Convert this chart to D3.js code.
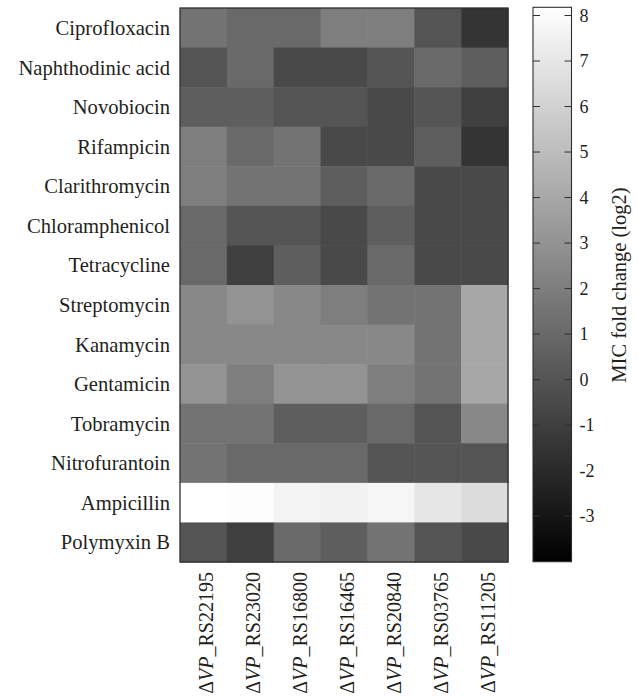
<!DOCTYPE html>
<html>
<head>
<meta charset="utf-8">
<script src="https://cdn.jsdelivr.net/npm/d3@7"></script>
<style>
  html, body { margin: 0; padding: 0; background: #fff; }
  svg { display: block; }
  text { font-family: "Liberation Serif", "Times New Roman", serif; fill: #231f20; }
</style>
</head>
<body>
<svg id="chart" width="638" height="697"></svg>
<script>
// Antibiotics (rows) and deletion strains (columns)
const drugs = [
  "Ciprofloxacin", "Naphthodinic acid", "Novobiocin", "Rifampicin",
  "Clarithromycin", "Chloramphenicol", "Tetracycline", "Streptomycin",
  "Kanamycin", "Gentamicin", "Tobramycin", "Nitrofurantoin",
  "Ampicillin", "Polymyxin B"
];
const strains = ["RS22195", "RS23020", "RS16800", "RS16465", "RS20840", "RS03765", "RS11205"];

// MIC fold change (log2), one array per antibiotic, in strain order
const ciprofloxacin   = [1.5, 1, 1, 2, 2, 0, -1.5];
const naphthodinic    = [0, 1, -0.5, -0.5, 0, 1, 0.5];
const novobiocin      = [0.5, 0.5, 0, 0, -0.5, 0, -1];
const rifampicin      = [2, 1, 1.5, -0.5, -0.5, 0.5, -1.5];
const clarithromycin  = [2, 1.5, 1.5, 0.5, 1, -0.5, -0.5];
const chloramphenicol = [1, 0, 0, -0.5, 0.5, -0.5, -0.5];
const tetracycline    = [1, -1, 0.5, -0.5, 1, -0.5, -0.5];
const streptomycin    = [2.5, 3, 2.5, 2, 1.5, 1.5, 4];
const kanamycin       = [2.5, 2.5, 2.5, 2.5, 2.5, 1.5, 4];
const gentamicin      = [3, 2, 3, 3, 2, 1.5, 4];
const tobramycin      = [1.5, 1.5, 0.5, 0.5, 1, 0, 2.5];
const nitrofurantoin  = [1.5, 1, 1, 1, 0, 0, 0];
const ampicillin      = [8.18, 8.1, 7.6, 7.55, 7.75, 7, 6.5];
const polymyxinB      = [0, -1, 1, 0.5, 1.5, 0, -0.5];

const matrix = [
  ciprofloxacin, naphthodinic, novobiocin, rifampicin, clarithromycin,
  chloramphenicol, tetracycline, streptomycin, kanamycin, gentamicin,
  tobramycin, nitrofurantoin, ampicillin, polymyxinB
];

// Colour bar range and tick labels
const colorDomain = [-4, 8.18];
const colorTicks = [-3, -2, -1, 0, 1, 2, 3, 4, 5, 6, 7, 8];

const svg = d3.select("#chart");

const heat = { left: 180, right: 508, top: 8, bottom: 562 };

const x = d3.scaleBand().domain(strains).range([heat.left, heat.right]);
const y = d3.scaleBand().domain(drugs).range([heat.top, heat.bottom]);
const color = d3.scaleLinear().domain(colorDomain).range(["#000000", "#ffffff"]);

const cells = [];
matrix.forEach((row, i) => row.forEach((v, j) => cells.push({ drug: drugs[i], strain: strains[j], v })));

svg.append("g").selectAll("rect")
  .data(cells)
  .join("rect")
  .attr("x", d => x(d.strain))
  .attr("y", d => y(d.drug))
  .attr("width", x.bandwidth() + 0.5)
  .attr("height", y.bandwidth() + 0.5)
  .attr("fill", d => color(d.v));

svg.append("rect")
  .attr("x", heat.left).attr("y", heat.top)
  .attr("width", heat.right - heat.left).attr("height", heat.bottom - heat.top)
  .attr("fill", "none").attr("stroke", "#2e2e2e").attr("stroke-width", 1.3);

// Row labels
svg.append("g").selectAll("text")
  .data(drugs)
  .join("text")
  .attr("x", heat.left - 10)
  .attr("y", d => y(d) + y.bandwidth() / 2)
  .attr("dy", "0.35em")
  .attr("text-anchor", "end")
  .attr("font-size", 20.6)
  .text(d => d);

// Column labels, rotated
const colLabels = svg.append("g").selectAll("text")
  .data(strains)
  .join("text")
  .attr("transform", d => `translate(${x(d) + x.bandwidth() / 2},${heat.bottom + 10}) rotate(-90)`)
  .attr("dy", "0.5em")
  .attr("text-anchor", "end")
  .attr("font-size", 20);
colLabels.append("tspan").text("\u0394");
colLabels.append("tspan").attr("font-style", "italic").text("VP_");
colLabels.append("tspan").text(d => d);

// Colour bar
const bar = { left: 533, right: 571.5, top: 7.3, bottom: 561.7 };
const cy = d3.scaleLinear().domain(colorDomain).range([bar.bottom, bar.top]);

const grad = svg.append("defs").append("linearGradient")
  .attr("id", "grayGrad").attr("x1", 0).attr("y1", 1).attr("x2", 0).attr("y2", 0);
grad.append("stop").attr("offset", 0).attr("stop-color", color(colorDomain[0]));
grad.append("stop").attr("offset", 1).attr("stop-color", color(colorDomain[1]));

svg.append("rect")
  .attr("x", bar.left).attr("y", bar.top)
  .attr("width", bar.right - bar.left).attr("height", bar.bottom - bar.top)
  .attr("fill", "url(#grayGrad)")
  .attr("stroke", "#2e2e2e").attr("stroke-width", 1.1);

const tickG = svg.append("g").selectAll("g").data(colorTicks).join("g")
  .attr("transform", d => `translate(0,${cy(d)})`);
tickG.append("line").attr("x1", bar.left).attr("x2", bar.left + 7)
  .attr("stroke", "#2e2e2e").attr("stroke-width", 1);
tickG.append("line").attr("x1", bar.right - 7).attr("x2", bar.right)
  .attr("stroke", "#2e2e2e").attr("stroke-width", 1);
tickG.append("text")
  .attr("x", bar.right + 8)
  .attr("dy", "0.35em")
  .attr("font-size", 18)
  .text(d => d);

svg.append("text")
  .attr("transform", `translate(626,285) rotate(-90)`)
  .attr("text-anchor", "middle")
  .attr("font-size", 20.5)
  .text("MIC fold change (log2)");
</script>
</body>
</html>
